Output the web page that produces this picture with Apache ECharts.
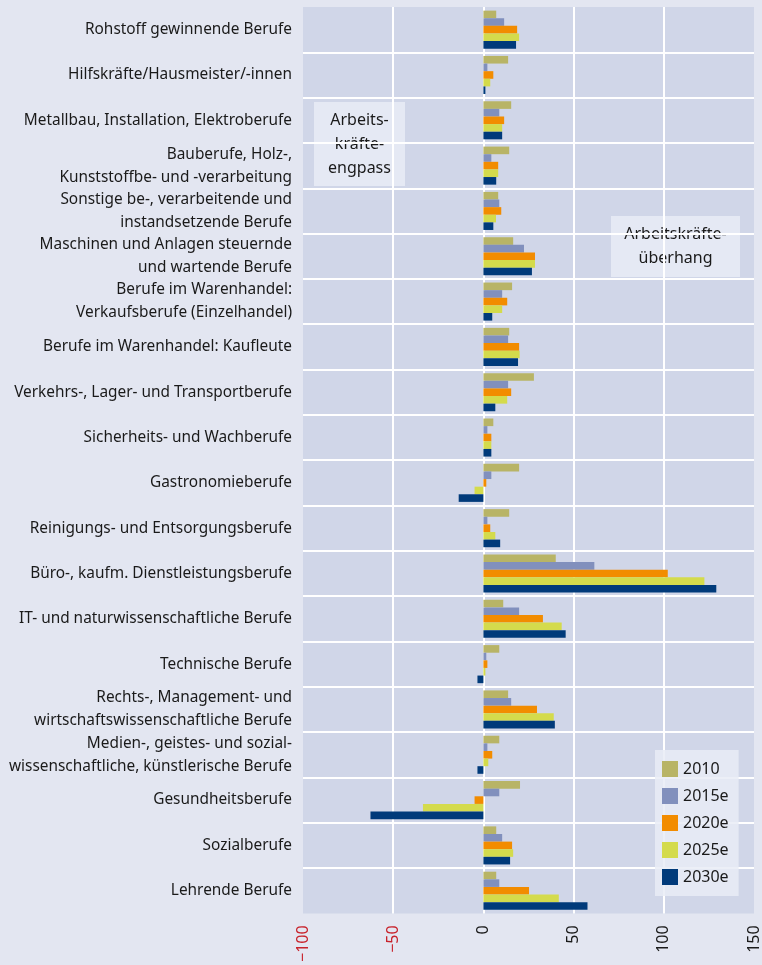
<!DOCTYPE html>
<html>
<head>
<meta charset="utf-8">
<script src="https://cdn.jsdelivr.net/npm/echarts@6/dist/echarts.min.js"></script>
<style>
    html, body { margin: 0; padding: 0; background: #e3e6f1; }
    #chart { width: 762px; height: 965px; }
</style>
</head>
<body>
<div id="chart"></div>
<script>
    // Berufsfelder (von oben nach unten)
    var berufe = [
        'Rohstoff gewinnende Berufe',
        'Hilfskräfte/Hausmeister/-innen',
        'Metallbau, Installation, Elektroberufe',
        'Bauberufe, Holz-,\nKunststoffbe- und -verarbeitung',
        'Sonstige be-, verarbeitende und\ninstandsetzende Berufe',
        'Maschinen und Anlagen steuernde\nund wartende Berufe',
        'Berufe im Warenhandel:\nVerkaufsberufe (Einzelhandel)',
        'Berufe im Warenhandel: Kaufleute',
        'Verkehrs-, Lager- und Transportberufe',
        'Sicherheits- und Wachberufe',
        'Gastronomieberufe',
        'Reinigungs- und Entsorgungsberufe',
        'Büro-, kaufm. Dienstleistungsberufe',
        'IT- und naturwissenschaftliche Berufe',
        'Technische Berufe',
        'Rechts-, Management- und\nwirtschaftswissenschaftliche Berufe',
        'Medien-, geistes- und sozial-\nwissenschaftliche, künstlerische Berufe',
        'Gesundheitsberufe',
        'Sozialberufe',
        'Lehrende Berufe'
    ];

    var jahre = ['2010', '2015e', '2020e', '2025e', '2030e'];
    var farben = ['#b8b466', '#8190bd', '#f28c00', '#d4db4c', '#003a7a'];

    var werte2010  = [7.1, 13.7, 15.4, 14.3, 8.2, 16.5, 15.9, 14.3, 28.0, 5.5, 19.8, 14.3, 40.1, 11.0, 8.8, 13.7, 8.8, 20.3, 7.1, 7.1];
    var werte2015  = [11.5, 2.2, 8.8, 4.4, 8.8, 22.5, 10.4, 13.7, 13.7, 2.2, 4.4, 2.2, 61.5, 19.8, 1.6, 15.4, 2.2, 8.8, 10.4, 8.8];
    var werte2020  = [18.7, 5.5, 11.5, 8.2, 9.9, 28.6, 13.2, 19.8, 15.4, 4.4, 1.6, 3.8, 102.2, 33.0, 2.2, 29.7, 4.9, -4.9, 15.9, 25.3];
    var werte2025  = [19.8, 3.8, 10.4, 8.2, 7.0, 28.6, 10.4, 20.1, 13.2, 4.4, -4.9, 6.6, 122.5, 43.4, 1.1, 39.0, 2.7, -33.5, 16.5, 41.8];
    var werte2030  = [18.1, 1.1, 10.4, 7.1, 5.5, 26.9, 4.9, 19.2, 6.6, 4.4, -13.7, 9.3, 129.1, 45.6, -3.3, 39.6, -3.3, -62.6, 14.8, 57.7];
    var alleWerte = [werte2010, werte2015, werte2020, werte2025, werte2030];

    var xTicks = { min: -100, max: 150, step: 50 };

    var myChart = echarts.init(document.getElementById('chart'));

    var series = jahre.map(function (jahr, i) {
        return {
            name: jahr,
            type: 'bar',
            data: alleWerte[i],
            barGap: 0,
            barCategoryGap: '16%',
            itemStyle: { color: farben[i] },
            silent: true
        };
    });

    var boxFill = 'rgba(233,236,246,0.85)';

    option = {
        backgroundColor: '#e3e6f1',
        animation: false,
        textStyle: { fontFamily: 'Noto Sans', color: '#1a1a1a' },
        grid: {
            left: 303,
            right: 3,
            top: 7,
            bottom: 50,
            show: true,
            backgroundColor: '#d0d6e8',
            borderWidth: 0
        },
        legend: {
            data: jahre,
            orient: 'vertical',
            left: 655,
            top: 750,
            backgroundColor: boxFill,
            padding: [11, 10, 11, 7],
            icon: 'rect',
            itemWidth: 16,
            itemHeight: 16,
            itemGap: 11,
            textStyle: { fontSize: 16, color: '#1a1a1a', fontFamily: 'Noto Sans' }
        },
        xAxis: {
            type: 'value',
            min: xTicks.min,
            max: xTicks.max,
            interval: xTicks.step,
            axisLine: { show: false },
            axisTick: { show: false },
            splitLine: {
                showMinLine: false,
                showMaxLine: false,
                lineStyle: { color: '#ffffff', width: 2 }
            },
            axisLabel: {
                rotate: 90,
                margin: 12,
                fontSize: 16,
                formatter: function (v) { return String(v).replace('-', '\u2212'); },
                color: function (v) { return Number(v) < 0 ? '#c8232c' : '#1a1a1a'; }
            }
        },
        yAxis: {
            type: 'category',
            data: berufe,
            inverse: true,
            axisLine: { show: false },
            axisTick: { show: false },
            splitLine: {
                show: true,
                showMinLine: false,
                showMaxLine: false,
                lineStyle: { color: '#ffffff', width: 2 }
            },
            axisLabel: {
                margin: 11,
                fontSize: 15.4,
                lineHeight: 23,
                color: '#1a1a1a',
                align: 'right'
            }
        },
        graphic: [
            {
                type: 'group',
                left: 314,
                top: 102,
                children: [
                    { type: 'rect', shape: { x: 0, y: 0, width: 91, height: 84 }, style: { fill: boxFill } },
                    {
                        type: 'text', x: 45.5, y: 42,
                        style: {
                            text: 'Arbeits-\nkräfte-\nengpass', align: 'center', verticalAlign: 'middle',
                            fontSize: 16, lineHeight: 24, fill: '#1a1a1a', fontFamily: 'Noto Sans'
                        }
                    }
                ]
            },
            {
                type: 'group',
                left: 611,
                top: 216,
                children: [
                    { type: 'rect', shape: { x: 0, y: 0, width: 129, height: 61 }, style: { fill: boxFill } },
                    {
                        type: 'text', x: 64.5, y: 30.5,
                        style: {
                            text: 'Arbeitskräfte-\nüberhang', align: 'center', verticalAlign: 'middle',
                            fontSize: 16, lineHeight: 24, fill: '#1a1a1a', fontFamily: 'Noto Sans'
                        }
                    }
                ]
            }
        ],
        series: series
    };
    myChart.setOption(option);
</script>
</body>
</html>
